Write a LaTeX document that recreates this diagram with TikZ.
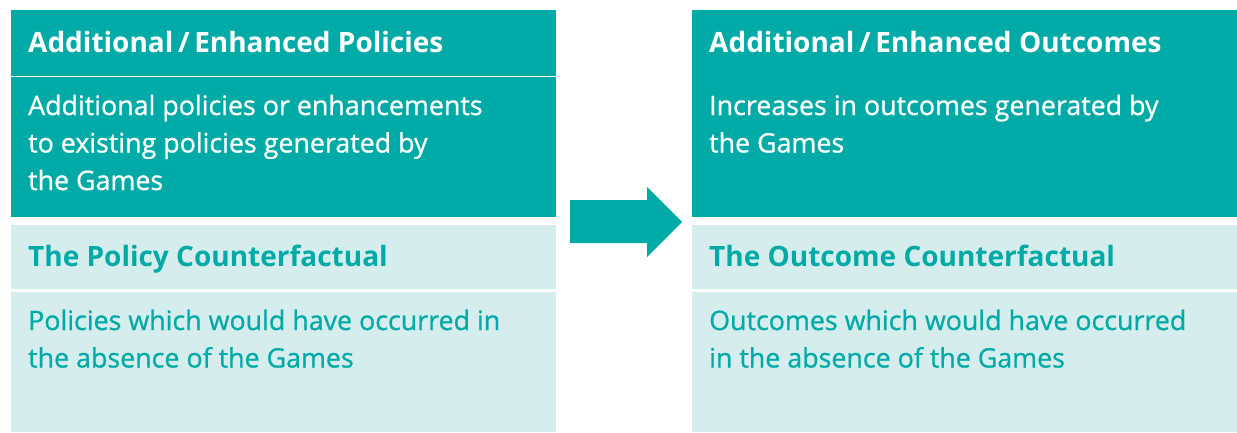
\documentclass[tikz,border=0pt]{standalone}
\usepackage{fontspec}
\setmainfont{Open Sans}
\newfontfamily\semifont{Open Sans}[FakeBold=0.8]
\definecolor{teal1}{RGB}{0,170,167}
\definecolor{teal2}{RGB}{214,237,238}
\newcommand{\lines}[1]{\begin{tabular}[t]{@{}l@{}}#1\end{tabular}}
\begin{document}
\begin{tikzpicture}[x=1pt,y=-1pt,
  hd/.style={anchor=base west,inner sep=0pt,font=\fontsize{28}{37}\selectfont\bfseries},
  bd/.style={anchor=base west,inner sep=0pt,font=\fontsize{26.8}{37.5}\selectfont\semifont},
  dark/.style={fill=teal1,draw=none},
  light/.style={fill=teal2,draw=none}]
\useasboundingbox (0,0) rectangle (1237,432);
% left column
\fill[dark] (11,10) rectangle (556,75.5);
\fill[dark] (11,76.5) rectangle (556,217);
\fill[light] (11,225) rectangle (556,288.5);
\fill[light] (11,291.5) rectangle (556,432);
% right column
\fill[dark] (692,10) rectangle (1237,217);
\fill[light] (692,225) rectangle (1237,288.5);
\fill[light] (692,291.5) rectangle (1237,432);
% arrow
\fill[teal1] (570,200) -- (647,200) -- (647,187) -- (682,222) -- (647,257) -- (647,243) -- (570,243) -- cycle;
% texts
\node[hd,text=white] (lh) at (28,52) {Additional\,/\,Enhanced Policies};
\node[bd,text=white] (lb) at (28,115) {\lines{Additional policies or enhancements\\to existing policies generated by\\the Games}};
\node[hd,text=teal1] (lch) at (28,266) {The Policy Counterfactual};
\node[bd,text=teal1] (lcb) at (28,330) {\lines{Policies which would have occurred in\\the absence of the Games}};
\node[hd,text=white] (rh) at (709,52) {Additional\,/\,Enhanced Outcomes};
\node[bd,text=white] (rb) at (709,115) {\lines{Increases in outcomes generated by\\the Games}};
\node[hd,text=teal1] (rch) at (709,266) {The Outcome Counterfactual};
\node[bd,text=teal1] (rcb) at (709,330) {\lines{Outcomes which would have occurred\\in the absence of the Games}};
\end{tikzpicture}
\end{document}
